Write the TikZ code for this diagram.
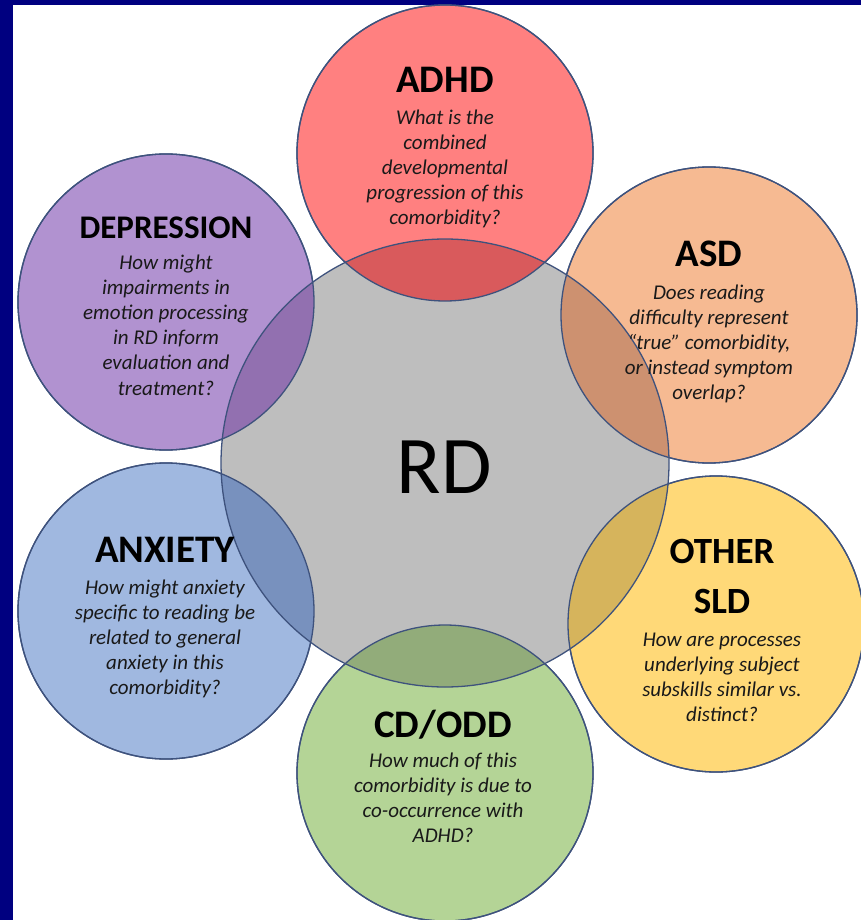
\documentclass[tikz,border=0pt]{standalone}
\usepackage{fontspec}
\setmainfont{Carlito}
\begin{document}
\begin{tikzpicture}[x=1pt,y=-1pt,
  ring/.style={circle,inner sep=0pt,minimum size=296pt,draw=edgecol,line width=1.3pt},
  head/.style={anchor=base,inner sep=0pt,font=\fontsize{39}{46}\selectfont\bfseries,text=black,align=center},
  quest/.style={anchor=base,inner sep=0pt,font=\fontsize{21}{25.2}\selectfont\itshape,text=qcol,align=center}]
\definecolor{navy}{RGB}{0,0,128}
\definecolor{edgecol}{RGB}{62,82,125}
\definecolor{qcol}{RGB}{25,25,25}
\definecolor{rdgray}{RGB}{190,190,190}
\definecolor{cred}{RGB}{255,128,128}\definecolor{ored}{RGB}{217,90,92}
\definecolor{corange}{RGB}{246,186,146}\definecolor{oorange}{RGB}{205,145,112}
\definecolor{cyellow}{RGB}{255,217,120}\definecolor{oyellow}{RGB}{214,180,92}
\definecolor{cgreen}{RGB}{180,212,150}\definecolor{ogreen}{RGB}{146,172,122}
\definecolor{cblue}{RGB}{160,184,224}\definecolor{oblue}{RGB}{120,145,190}
\definecolor{cpurple}{RGB}{177,146,208}\definecolor{opurple}{RGB}{146,112,176}
% background
\fill[navy] (0,0) rectangle (861,920);
\fill[white] (13,5) rectangle (861,920);
\useasboundingbox (0,0) rectangle (861,920);
\begin{scope}
\clip (0,0) rectangle (861,920);
% circles
\node[ring,fill=cred] (adhd) at (445,153) {};
\node[ring,fill=corange] (asd) at (709,315) {};
\node[ring,fill=cyellow] (sld) at (716,624) {};
\node[ring,fill=cgreen] (cdodd) at (445,773) {};
\node[ring,fill=cblue] (anx) at (166,611) {};
\node[ring,fill=cpurple] (dep) at (166,302) {};
\node[circle,inner sep=0pt,minimum size=448pt,fill=rdgray] (rd) at (445,463) {};
% overlaps
\begin{scope}
\clip (445,463) circle (224pt);
\fill[ored] (445,153) circle (148pt);
\fill[oorange] (709,315) circle (148pt);
\fill[oyellow] (716,624) circle (148pt);
\fill[ogreen] (445,773) circle (148pt);
\fill[oblue] (166,611) circle (148pt);
\fill[opurple] (166,302) circle (148pt);
\end{scope}
% outlines
\draw[edgecol,line width=1.3pt] (rd.center) circle (224pt);
\foreach \n in {adhd,asd,sld,cdodd,anx,dep}{\draw[edgecol,line width=1.3pt] (\n.center) circle (148pt);}
\end{scope}
% texts
\node[anchor=base,inner sep=0pt,font=\fontsize{82}{90}\selectfont] (rdt) at (444,493) {RD};
\node[head] (adhdh) at (445,93) {ADHD};
\node[quest] (adhdq) at (445,224.8) {What is the\\combined\\developmental\\progression of this\\comorbidity?};
\node[head,font=\fontsize{33}{40}\selectfont\bfseries] (deph) at (166,238) {DEPRESSION};
\node[quest] (depq) at (166,395) {How might\\impairments in\\emotion processing\\in RD inform\\evaluation and\\treatment?};
\node[head] (asdh) at (709,266) {ASD};
\node[quest] (asdq) at (709,399.8) {Does reading\\difficulty represent\\“true” comorbidity,\\or instead symptom\\overlap?};
\node[head] (anxh) at (165,562) {ANXIETY};
\node[quest] (anxq) at (165,694.8) {How might anxiety\\specific to reading be\\related to general\\anxiety in this\\comorbidity?};
\node[head] (cdh) at (443,737) {CD/ODD};
\node[quest] (cdq) at (443,842.6) {How much of this\\comorbidity is due to\\co-occurrence with\\ADHD?};
\node[head,font=\fontsize{37}{50}\selectfont\bfseries] (sldh) at (722,613) {OTHER\\SLD};
\node[quest] (sldq) at (722,721.6) {How are processes\\underlying subject\\subskills similar vs.\\distinct?};
\end{tikzpicture}
\end{document}
